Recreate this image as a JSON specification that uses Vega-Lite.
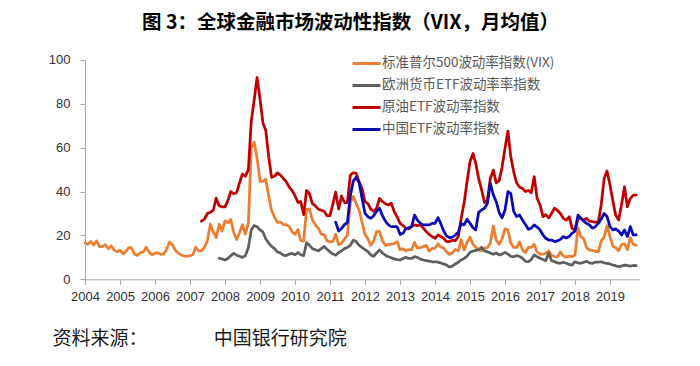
{
  "$schema": "https://vega.github.io/schema/vega-lite/v6.json",
  "autosize": {"type": "none"},
  "width": 555,
  "height": 219.3,
  "padding": {"left": 85, "top": 60, "right": 60, "bottom": 87},
  "background": "white",
  "title": {
    "text": "图 3：全球金融市场波动性指数（VIX，月均值）",
    "anchor": "middle",
    "frame": "group",
    "dx": -12,
    "offset": 14,
    "font": "Noto Sans CJK SC",
    "fontSize": 19.5,
    "fontWeight": "bold",
    "color": "#000000"
  },
  "data": {
    "values": [
      {"m":"2004-01","a":16.6},{"m":"2004-02","a":15.9},{"m":"2004-03","a":17.3},{"m":"2004-04","a":15.6},{"m":"2004-05","a":17.5},{"m":"2004-06","a":14.8},{"m":"2004-07","a":15.0},{"m":"2004-08","a":15.8},{"m":"2004-09","a":13.9},{"m":"2004-10","a":15.3},{"m":"2004-11","a":13.3},{"m":"2004-12","a":12.6},
      {"m":"2005-01","a":13.3},{"m":"2005-02","a":11.6},{"m":"2005-03","a":12.6},{"m":"2005-04","a":14.4},{"m":"2005-05","a":14.3},{"m":"2005-06","a":11.5},{"m":"2005-07","a":10.9},{"m":"2005-08","a":12.2},{"m":"2005-09","a":12.5},{"m":"2005-10","a":14.6},{"m":"2005-11","a":12.3},{"m":"2005-12","a":11.2},
      {"m":"2006-01","a":11.9},{"m":"2006-02","a":12.0},{"m":"2006-03","a":11.4},{"m":"2006-04","a":11.6},{"m":"2006-05","a":13.5},{"m":"2006-06","a":17.0},{"m":"2006-07","a":15.8},{"m":"2006-08","a":13.2},{"m":"2006-09","a":11.9},{"m":"2006-10","a":11.1},{"m":"2006-11","a":10.6},{"m":"2006-12","a":10.5},
      {"m":"2007-01","a":10.8},{"m":"2007-02","a":11.2},{"m":"2007-03","a":14.6},{"m":"2007-04","a":13.0},{"m":"2007-05","a":13.0,"c":26.5},{"m":"2007-06","a":14.7,"c":27.5},{"m":"2007-07","a":17.6,"c":30.0},{"m":"2007-08","a":25.1,"c":30.5},{"m":"2007-09","a":21.5,"c":31.5},{"m":"2007-10","a":19.0,"c":37.0},{"m":"2007-11","a":25.1,"b":9.6,"c":33.5},{"m":"2007-12","a":22.0,"b":9.3,"c":33.0},
      {"m":"2008-01","a":26.6,"b":8.8,"c":33.0},{"m":"2008-02","a":25.7,"b":9.5,"c":36.0},{"m":"2008-03","a":27.3,"b":10.8,"c":40.0},{"m":"2008-04","a":21.3,"b":11.8,"c":39.0},{"m":"2008-05","a":18.2,"b":11.0,"c":39.5},{"m":"2008-06","a":21.2,"b":10.5,"c":44.0},{"m":"2008-07","a":24.9,"b":10.0,"c":48.0},{"m":"2008-08","a":20.6,"b":10.8,"c":47.0},{"m":"2008-09","a":25.7,"b":14.5,"c":50.0},{"m":"2008-10","a":59.9,"b":22.5,"c":72.0},{"m":"2008-11","a":62.6,"b":24.5,"c":82.0},{"m":"2008-12","a":55.0,"b":24.0,"c":92.0},
      {"m":"2009-01","a":44.7,"b":22.5,"c":82.0},{"m":"2009-02","a":44.6,"b":21.5,"c":71.0},{"m":"2009-03","a":45.6,"b":18.5,"c":68.0},{"m":"2009-04","a":38.0,"b":16.5,"c":56.0},{"m":"2009-05","a":31.4,"b":15.0,"c":46.5},{"m":"2009-06","a":28.3,"b":14.0,"c":47.0},{"m":"2009-07","a":26.0,"b":12.5,"c":48.5},{"m":"2009-08","a":26.2,"b":12.0,"c":47.5},{"m":"2009-09","a":24.9,"b":11.0,"c":46.0},{"m":"2009-10","a":24.9,"b":10.8,"c":44.5},{"m":"2009-11","a":24.0,"b":11.5,"c":42.0},{"m":"2009-12","a":21.6,"b":11.8,"c":40.5},
      {"m":"2010-01","a":20.5,"b":11.2,"c":38.0},{"m":"2010-02","a":22.7,"b":12.2,"c":35.0},{"m":"2010-03","a":17.7,"b":11.2,"c":35.5},{"m":"2010-04","a":17.4,"b":10.8,"c":29.5},{"m":"2010-05","a":31.9,"b":16.7,"c":40.5},{"m":"2010-06","a":32.0,"b":15.5,"c":39.0},{"m":"2010-07","a":27.0,"b":14.0,"c":34.5},{"m":"2010-08","a":24.9,"b":13.5,"c":33.5},{"m":"2010-09","a":23.3,"b":13.0,"c":32.0},{"m":"2010-10","a":20.6,"b":14.0,"c":31.5},{"m":"2010-11","a":20.4,"b":15.0,"c":31.0},{"m":"2010-12","a":17.5,"b":13.7,"c":29.0},
      {"m":"2011-01","a":17.0,"b":12.5,"c":29.0},{"m":"2011-02","a":17.3,"b":11.5,"c":34.5},{"m":"2011-03","a":20.6,"b":11.0,"c":39.8,"d":26.1},{"m":"2011-04","a":15.8,"b":12.2,"c":32.0,"d":22.0},{"m":"2011-05","a":16.5,"b":13.0,"c":38.0,"d":23.1},{"m":"2011-06","a":18.4,"b":14.0,"c":35.0,"d":25.0},{"m":"2011-07","a":19.9,"b":14.5,"c":35.0,"d":25.8},{"m":"2011-08","a":35.0,"b":15.5,"c":47.5,"d":38.0},{"m":"2011-09","a":37.8,"b":17.8,"c":48.6,"d":44.8},{"m":"2011-10","a":34.5,"b":17.2,"c":48.3,"d":46.5},{"m":"2011-11","a":31.5,"b":15.5,"c":44.5,"d":44.0},{"m":"2011-12","a":26.0,"b":14.5,"c":41.5,"d":37.0},
      {"m":"2012-01","a":20.5,"b":13.5,"c":35.4,"d":30.1},{"m":"2012-02","a":18.4,"b":12.6,"c":34.5,"d":28.5},{"m":"2012-03","a":15.4,"b":11.1,"c":32.0,"d":27.8},{"m":"2012-04","a":17.6,"b":10.5,"c":31.0,"d":29.0},{"m":"2012-05","a":21.7,"b":12.0,"c":32.4,"d":31.0},{"m":"2012-06","a":21.7,"b":13.4,"c":36.9,"d":32.4},{"m":"2012-07","a":17.5,"b":12.0,"c":35.4,"d":29.0},{"m":"2012-08","a":15.5,"b":11.0,"c":34.5,"d":26.5},{"m":"2012-09","a":15.8,"b":10.3,"c":33.9,"d":24.8},{"m":"2012-10","a":16.0,"b":9.8,"c":34.7,"d":24.0},{"m":"2012-11","a":16.3,"b":9.3,"c":30.9,"d":24.0},{"m":"2012-12","a":17.2,"b":9.0,"c":28.5,"d":24.0},
      {"m":"2013-01","a":13.5,"b":8.8,"c":25.5,"d":20.5},{"m":"2013-02","a":13.9,"b":9.5,"c":24.5,"d":21.0},{"m":"2013-03","a":13.0,"b":10.0,"c":23.3,"d":23.0},{"m":"2013-04","a":13.5,"b":9.5,"c":23.0,"d":23.5},{"m":"2013-05","a":13.5,"b":9.5,"c":24.0,"d":24.0},{"m":"2013-06","a":16.9,"b":10.3,"c":24.8,"d":29.3},{"m":"2013-07","a":14.2,"b":10.0,"c":24.5,"d":27.0},{"m":"2013-08","a":14.4,"b":9.2,"c":24.8,"d":25.5},{"m":"2013-09","a":14.9,"b":8.8,"c":23.3,"d":24.8},{"m":"2013-10","a":15.4,"b":8.5,"c":21.7,"d":24.8},{"m":"2013-11","a":12.9,"b":8.3,"c":20.5,"d":24.8},{"m":"2013-12","a":14.1,"b":8.0,"c":19.5,"d":25.5},
      {"m":"2014-01","a":14.1,"b":8.0,"c":18.7,"d":25.5},{"m":"2014-02","a":16.2,"b":7.8,"c":20.2,"d":28.1},{"m":"2014-03","a":14.7,"b":7.5,"c":19.5,"d":25.5},{"m":"2014-04","a":14.2,"b":7.0,"c":18.7,"d":22.0},{"m":"2014-05","a":12.5,"b":6.5,"c":17.2,"d":19.8},{"m":"2014-06","a":11.3,"b":5.6,"c":17.2,"d":19.0},{"m":"2014-07","a":12.1,"b":6.0,"c":17.8,"d":19.2},{"m":"2014-08","a":13.6,"b":7.0,"c":17.6,"d":20.2},{"m":"2014-09","a":13.0,"b":7.8,"c":19.5,"d":21.5},{"m":"2014-10","a":18.1,"b":8.8,"c":27.8,"d":25.5},{"m":"2014-11","a":13.4,"b":9.5,"c":35.0,"d":24.8},{"m":"2014-12","a":16.9,"b":10.5,"c":44.5,"d":27.4},
      {"m":"2015-01","a":19.2,"b":12.3,"c":53.6,"d":25.5},{"m":"2015-02","a":16.0,"b":12.9,"c":57.4,"d":23.5},{"m":"2015-03","a":14.7,"b":13.2,"c":53.0,"d":22.5},{"m":"2015-04","a":13.6,"b":13.4,"c":46.0,"d":30.5},{"m":"2015-05","a":13.0,"b":14.6,"c":41.0,"d":31.6},{"m":"2015-06","a":14.3,"b":13.0,"c":35.0,"d":32.4},{"m":"2015-07","a":14.4,"b":12.5,"c":36.0,"d":34.5},{"m":"2015-08","a":16.5,"b":12.0,"c":46.0,"d":43.8},{"m":"2015-09","a":24.4,"b":11.4,"c":49.8,"d":38.5},{"m":"2015-10","a":17.8,"b":12.0,"c":44.0,"d":35.5},{"m":"2015-11","a":16.0,"b":11.1,"c":45.0,"d":30.5},{"m":"2015-12","a":18.3,"b":11.5,"c":51.0,"d":28.0},
      {"m":"2016-01","a":23.0,"b":12.3,"c":59.7,"d":31.5},{"m":"2016-02","a":22.6,"b":11.5,"c":67.6,"d":40.0},{"m":"2016-03","a":16.5,"b":10.5,"c":56.0,"d":39.2},{"m":"2016-04","a":14.5,"b":10.3,"c":49.0,"d":31.0},{"m":"2016-05","a":14.5,"b":10.8,"c":44.0,"d":28.6},{"m":"2016-06","a":17.0,"b":10.5,"c":42.0,"d":29.3},{"m":"2016-07","a":13.5,"b":9.6,"c":41.5,"d":27.0},{"m":"2016-08","a":12.2,"b":8.2,"c":40.0,"d":25.0},{"m":"2016-09","a":14.5,"b":8.0,"c":40.5,"d":22.8},{"m":"2016-10","a":14.5,"b":9.0,"c":39.5,"d":23.3},{"m":"2016-11","a":16.0,"b":11.1,"c":46.8,"d":24.8},{"m":"2016-12","a":12.5,"b":10.3,"c":37.0,"d":23.8},
      {"m":"2017-01","a":11.5,"b":9.6,"c":33.9,"d":22.5},{"m":"2017-02","a":11.5,"b":9.0,"c":28.6,"d":20.2},{"m":"2017-03","a":11.8,"b":8.5,"c":29.5,"d":18.7},{"m":"2017-04","a":13.0,"b":11.9,"c":28.0,"d":17.9},{"m":"2017-05","a":10.8,"b":8.5,"c":30.0,"d":17.9},{"m":"2017-06","a":10.4,"b":8.0,"c":32.4,"d":17.2},{"m":"2017-07","a":10.2,"b":7.5,"c":31.5,"d":17.5},{"m":"2017-08","a":12.5,"b":7.3,"c":30.0,"d":18.2},{"m":"2017-09","a":10.6,"b":7.8,"c":27.8,"d":19.5},{"m":"2017-10","a":10.1,"b":7.3,"c":27.0,"d":18.8},{"m":"2017-11","a":10.6,"b":6.8,"c":28.5,"d":19.5},{"m":"2017-12","a":10.3,"b":6.5,"c":23.3,"d":21.0},
      {"m":"2018-01","a":11.1,"b":8.0,"c":22.5,"d":22.0},{"m":"2018-02","a":23.5,"b":7.5,"c":27.8,"d":29.3},{"m":"2018-03","a":19.6,"b":7.3,"c":27.8,"d":28.0},{"m":"2018-04","a":18.5,"b":7.8,"c":27.0,"d":26.5},{"m":"2018-05","a":14.5,"b":8.2,"c":27.8,"d":25.5},{"m":"2018-06","a":13.3,"b":7.5,"c":26.5,"d":24.8},{"m":"2018-07","a":13.2,"b":7.3,"c":26.3,"d":23.3},{"m":"2018-08","a":12.7,"b":7.8,"c":26.0,"d":24.0},{"m":"2018-09","a":12.5,"b":7.8,"c":26.3,"d":25.5},{"m":"2018-10","a":17.5,"b":8.0,"c":33.9,"d":27.5},{"m":"2018-11","a":19.2,"b":7.5,"c":46.0,"d":30.0},{"m":"2018-12","a":24.5,"b":7.3,"c":49.4,"d":28.6},
      {"m":"2019-01","a":19.5,"b":7.0,"c":43.0,"d":24.0},{"m":"2019-02","a":15.0,"b":6.5,"c":35.4,"d":22.5},{"m":"2019-03","a":14.5,"b":6.2,"c":29.3,"d":23.0},{"m":"2019-04","a":13.0,"b":5.8,"c":27.0,"d":22.0},{"m":"2019-05","a":15.8,"b":6.0,"c":33.9,"d":20.2},{"m":"2019-06","a":16.2,"b":6.5,"c":42.2,"d":22.5},{"m":"2019-07","a":13.5,"b":6.3,"c":33.1,"d":19.5},{"m":"2019-08","a":19.0,"b":6.0,"c":36.9,"d":24.0},{"m":"2019-09","a":16.0,"b":6.3,"c":38.4,"d":20.2},{"m":"2019-10","a":15.5,"b":6.2,"c":38.4,"d":20.2}
    ]
  },
  "transform": [
    {"fold": ["a", "b", "c", "d"], "as": ["s", "v"]},
    {"filter": "isValid(datum.v)"}
  ],
  "mark": {"type": "line", "strokeWidth": 2.75, "strokeJoin": "round", "strokeCap": "round"},
  "encoding": {
    "x": {
      "field": "m",
      "type": "temporal",
      "scale": {
        "type": "utc",
        "domain": [
          {"year": 2004, "month": 1, "date": 1, "utc": true},
          {"year": 2019, "month": 11, "date": 10, "utc": true}
        ]
      },
      "axis": {
        "tickCount": {"interval": "year", "step": 1},
        "format": "%Y",
        "formatType": "utc",
        "labelAlign": "center",
        "labelFlush": false,
        "labelOverlap": false,
        "grid": false,
        "domainColor": "#A6A6A6",
        "tickColor": "#A6A6A6",
        "tickSize": 5,
        "labelPadding": 6,
        "labelFont": "Liberation Sans",
        "labelFontSize": 13,
        "labelColor": "#333333",
        "title": "资料来源：　　　　中国银行研究院",
        "titleAnchor": "start",
        "titleAlign": "left",
        "titleBaseline": "middle",
        "titleX": -33,
        "titleY": 59,
        "titleFont": "Noto Sans CJK SC",
        "titleFontSize": 19,
        "titleFontWeight": "normal",
        "titleColor": "#1a1a1a"
      }
    },
    "y": {
      "field": "v",
      "type": "quantitative",
      "scale": {"domain": [0, 100], "nice": false},
      "axis": {
        "values": [0, 20, 40, 60, 80, 100],
        "grid": false,
        "title": null,
        "domainColor": "#A6A6A6",
        "tickColor": "#A6A6A6",
        "tickSize": 5,
        "labelPadding": 10,
        "labelFont": "Liberation Sans",
        "labelFontSize": 13,
        "labelColor": "#333333"
      }
    },
    "color": {
      "field": "s",
      "type": "nominal",
      "scale": {
        "domain": ["a", "b", "c", "d"],
        "range": ["#ED7D31", "#5F5F5F", "#C00000", "#0A0AB4"]
      },
      "legend": {
        "orient": "none",
        "legendX": 266,
        "legendY": -12,
        "direction": "vertical",
        "title": null,
        "padding": 0,
        "symbolType": "stroke",
        "symbolSize": 784,
        "symbolStrokeWidth": 3,
        "labelOffset": 0,
        "rowPadding": -8,
        "labelFont": "Noto Sans CJK SC",
        "labelFontSize": 13.5,
        "labelColor": "#595959",
        "labelLimit": 400,
        "labelExpr": "{'a':'标准普尔500波动率指数(VIX)','b':'欧洲货币ETF波动率率指数','c':'原油ETF波动率指数','d':'中国ETF波动率指数'}[datum.label]"
      }
    }
  },
  "config": {"view": {"stroke": null}}
}
